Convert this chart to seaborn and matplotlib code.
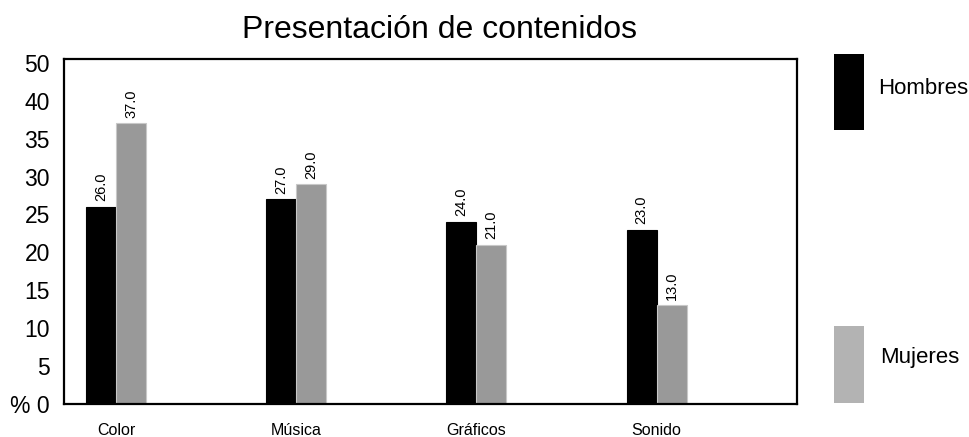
import pandas as pd
import numpy as np
import seaborn as sns
import matplotlib.pyplot as plt
from matplotlib.patches import Rectangle

# data
categorias = ['Color', 'Música', 'Gráficos', 'Sonido']
hombres = [26.0, 27.0, 24.0, 23.0]
mujeres = [37.0, 29.0, 21.0, 13.0]
ytick_vals = [0, 5, 10, 15, 20, 25, 30, 35, 40, 45]
ytick_labels = ['% 0', '5', '10', '15', '20', '25', '30', '35', '40', '50']

df = pd.DataFrame({
    'categoria': categorias * 2,
    'valor': hombres + mujeres,
    'sexo': ['Hombres'] * len(hombres) + ['Mujeres'] * len(mujeres),
})

sns.set_style('white')
plt.rcParams['font.family'] = ['Liberation Sans', 'DejaVu Sans']
plt.rcParams['text.color'] = 'black'
plt.rcParams['xtick.color'] = 'black'
plt.rcParams['ytick.color'] = 'black'

fig = plt.figure(figsize=(9.69, 4.37), dpi=100)
ax = fig.add_axes([0.066, 0.0755, 0.7565, 0.7895])

sns.barplot(data=df, x='categoria', y='valor', hue='sexo', order=categorias,
            palette={'Hombres': '#000000', 'Mujeres': '#999999'},
            width=0.333, saturation=1, legend=False, ax=ax)

for cont, ec in zip(ax.containers, ['#000000', '#c8c8c8']):
    for p in cont:
        p.set_edgecolor(ec)
        p.set_linewidth(0.8)
    ax.bar_label(cont, fmt='%.1f', rotation=90, padding=4, fontsize=10.5)

ax.set_xlim(-0.29, 3.78)
ax.set_ylim(0, 45.5)
ax.set_yticks(ytick_vals)
ax.set_yticklabels(ytick_labels, fontsize=16.5)
ax.tick_params(axis='x', labelsize=11.5, pad=14, length=0)
ax.tick_params(axis='y', length=0, pad=10)
ax.set_xlabel('')
ax.set_ylabel('')
for s in ax.spines.values():
    s.set_visible(True)
    s.set_color('black')
    s.set_linewidth(1.6)

fig.text(440 / 969, 1 - 30 / 437, 'Presentación de contenidos', ha='center', va='center', fontsize=23)

# legend boxes at the right
fig.patches.append(Rectangle((834 / 969, 1 - 130 / 437), 30 / 969, 76 / 437,
                             transform=fig.transFigure, facecolor='#000000', edgecolor='none'))
fig.patches.append(Rectangle((834 / 969, 1 - 403 / 437), 30 / 969, 77 / 437,
                             transform=fig.transFigure, facecolor='#b3b3b3', edgecolor='none'))
fig.text(878 / 969, 1 - 88 / 437, 'Hombres', ha='left', va='center', fontsize=16)
fig.text(880 / 969, 1 - 358 / 437, 'Mujeres', ha='left', va='center', fontsize=16)

plt.savefig('out.png', dpi=100)
plt.close()
